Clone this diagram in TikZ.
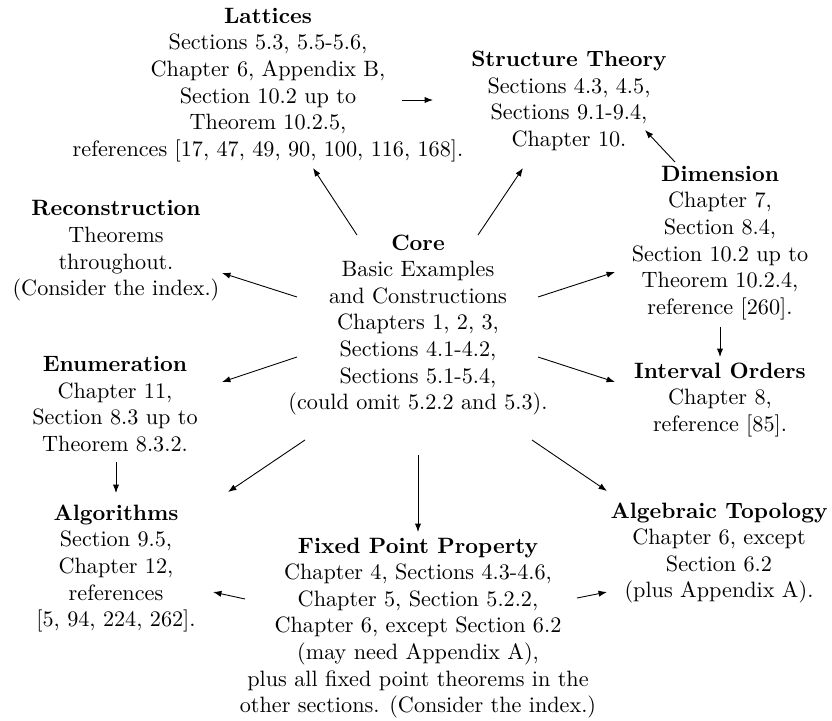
\documentclass[tikz,border=0pt]{standalone}
\usepackage{amsmath,amssymb}
\usetikzlibrary{arrows.meta}

\tikzset{topic/.style={align=center, inner sep=0pt}}

\begin{document}
\begin{tikzpicture}[x=0.4505pt, y=-0.4505pt, >={Latex[length=3.8pt,width=2.8pt]}]
    \useasboundingbox (0,0) rectangle (832,721);
    %% Draw the topics
    \node[topic] (core) at (418,325) {\textbf{Core}\\ Basic Examples\\ and Constructions\\ Chapters 1, 2, 3,\\ Sections 4.1-4.2,\\ Sections 5.1-5.4,\\ (could omit 5.2.2 and 5.3).};
    \node[topic] (lattices) at (268,85) {\textbf{Lattices}\\ Sections 5.3, 5.5-5.6,\\ Chapter 6, Appendix B,\\ Section 10.2 up to\\ Theorem 10.2.5,\\ references [17, 47, 49, 90, 100, 116, 168].};
    \node[topic] (structure) at (569,101) {\textbf{Structure Theory}\\ Sections 4.3, 4.5,\\ Sections 9.1-9.4,\\ Chapter 10.};
    \node[topic] (dimension) at (720,243) {\textbf{Dimension}\\ Chapter 7,\\ Section 8.4,\\ Section 10.2 up to\\ Theorem 10.2.4,\\ reference [260].};
    \node[topic] (interval) at (720,400) {\textbf{Interval Orders}\\ Chapter 8,\\ reference [85].};
    \node[topic] (recon) at (116,251) {\textbf{Reconstruction}\\ Theorems\\ throughout.\\ (Consider the index.)};
    \node[topic] (enum) at (115,404) {\textbf{Enumeration}\\ Chapter 11,\\ Section 8.3 up to\\ Theorem 8.3.2.};
    \node[topic] (algo) at (116,568.5) {\textbf{Algorithms}\\ Section 9.5,\\ Chapter 12,\\ references\\ {[5, 94, 224, 262].}};
    \node[topic] (fixed) at (418,628) {\textbf{Fixed Point Property}\\ Chapter 4, Sections 4.3-4.6,\\ Chapter 5, Section 5.2.2,\\ Chapter 6, except Section 6.2\\ (may need Appendix A),\\ plus all fixed point theorems in the\\ other sections. (Consider the index.)};
    \node[topic] (topology) at (719,553) {\textbf{Algebraic Topology}\\ Chapter 6, except\\ Section 6.2\\ (plus Appendix A).};
    %% Draw the dependencies
    \begin{scope}[every path/.style={->}]
      \draw ([shift={(-121,-28)}]core.center) -- ([shift={(106,22)}]recon.center);
      \draw ([shift={(-121,32)}]core.center) -- ([shift={(107,-22)}]enum.center);
      \draw ([shift={(120,-28)}]core.center) -- ([shift={(-105,29)}]dimension.center);
      \draw ([shift={(120,32)}]core.center) -- ([shift={(-105,-18)}]interval.center);
      \draw ([shift={(-61,-90)}]core.center) -- ([shift={(45,83)}]lattices.center);
      \draw ([shift={(60,-90)}]core.center) -- ([shift={(-46,67)}]structure.center);
      \draw ([shift={(-113,115)}]core.center) -- ([shift={(112,-76.5)}]algo.center);
      \draw ([shift={(0,130)}]core.center) -- ([shift={(0,-96)}]fixed.center);
      \draw ([shift={(114,115)}]core.center) -- ([shift={(-112,-62)}]topology.center);
      \draw ([shift={(-45,-81)}]dimension.center) -- ([shift={(76,29)}]structure.center);
      \draw ([shift={(134,15)}]lattices.center) -- ([shift={(-136,-1)}]structure.center);
      \draw ([shift={(0,84)}]dimension.center) -- ([shift={(0,-43)}]interval.center);
      \draw ([shift={(1,58)}]enum.center) -- ([shift={(0,-75.5)}]algo.center);
      \draw ([shift={(-173,-29)}]fixed.center) -- ([shift={(97,23.5)}]algo.center);
      \draw ([shift={(159,-30)}]fixed.center) -- ([shift={(-112,39)}]topology.center);
    \end{scope}
\end{tikzpicture}
\end{document}
